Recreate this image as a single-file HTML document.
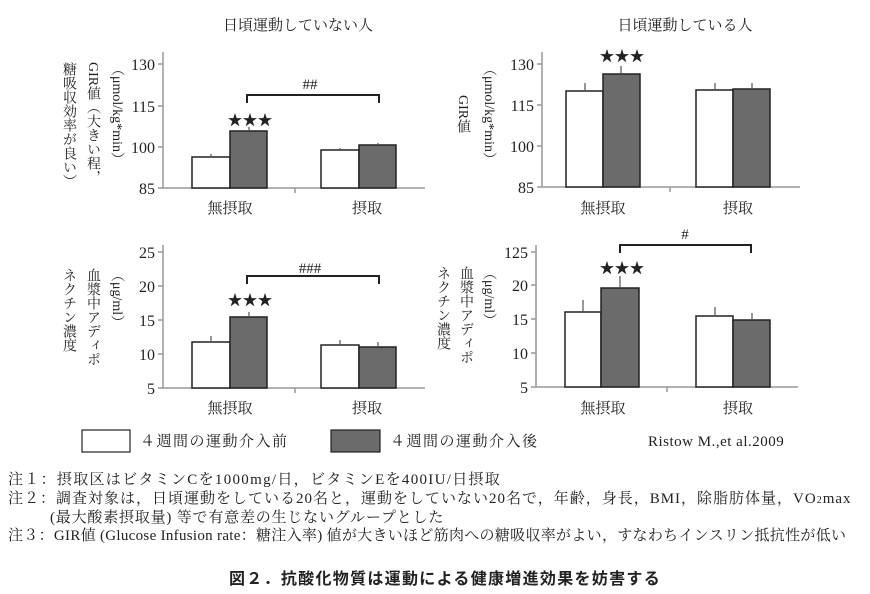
<!DOCTYPE html>
<html><head><meta charset="utf-8"><style>
body{margin:0;background:#fff;width:870px;height:594px;overflow:hidden;position:relative;font-family:"Liberation Serif","Noto Serif CJK SC","Noto Sans CJK JP",serif;color:#222}
.v{position:absolute;writing-mode:vertical-rl;font-size:14px;line-height:16px;white-space:nowrap}
.t{position:absolute;font-size:15px;letter-spacing:0.6px;white-space:nowrap}
</style></head><body>
<svg width="870" height="594" style="position:absolute;left:0;top:0" font-family="Liberation Serif, Noto Serif CJK SC, serif" font-size="15" fill="#222">
<g stroke="#999" stroke-width="1.5" fill="none">
<path d="M163 52V188H425M163 64h-5M163 106h-5M163 147h-5M163 188h-5M295 188v5"/>
<path d="M542 52V187H800M542 64h-5M542 105h-5M542 146h-5M542 187h-5M670 187v5"/>
<path d="M163 245V388H425M163 252h-5M163 286h-5M163 320h-5M163 354h-5M163 388h-5M295 388v5"/>
<path d="M536 245V387H798M536 252h-5M536 285h-5M536 319h-5M536 353h-5M536 387h-5M667 387v5"/>
</g>
<g stroke="#222" stroke-width="1.5">
<rect x="192" y="157" width="38" height="31" fill="#fff"/><rect x="230" y="131" width="37" height="57" fill="#6b6b6b"/>
<rect x="321" y="150" width="38" height="38" fill="#fff"/><rect x="359" y="145" width="37" height="43" fill="#6b6b6b"/>
<rect x="566" y="91" width="37" height="96" fill="#fff"/><rect x="603" y="74" width="37" height="113" fill="#6b6b6b"/>
<rect x="696" y="90" width="37" height="97" fill="#fff"/><rect x="733" y="89" width="37" height="98" fill="#6b6b6b"/>
<rect x="192" y="342" width="38" height="46" fill="#fff"/><rect x="230" y="317" width="37" height="71" fill="#6b6b6b"/>
<rect x="321" y="345" width="38" height="43" fill="#fff"/><rect x="359" y="347" width="37" height="41" fill="#6b6b6b"/>
<rect x="565" y="312" width="36" height="75" fill="#fff"/><rect x="601" y="288" width="38" height="99" fill="#6b6b6b"/>
<rect x="696" y="316" width="37" height="71" fill="#fff"/><rect x="733" y="320" width="37" height="67" fill="#6b6b6b"/>
</g>
<g stroke="#555" stroke-width="1.2" fill="none">
<path d="M211 157v-3M249 131v-4M340 150v-2M378 145v-2"/>
<path d="M585 91v-8M621 74v-8M715 90v-7M752 89v-6"/>
<path d="M211 342v-6M249 317v-5M340 345v-5M378 347v-5"/>
<path d="M583 312v-12M620 288v-12M715 316v-9M752 320v-7"/>
</g>
<g stroke="#222" stroke-width="2" fill="none">
<path d="M247 103v-8h132v8"/><path d="M247 284v-8h132v8"/><path d="M620 253v-8h131v8"/>
</g>
<g text-anchor="end" font-size="16">
<text x="155" y="70">130</text><text x="155" y="112">115</text><text x="155" y="153">100</text><text x="155" y="194">85</text>
<text x="534" y="70">130</text><text x="534" y="111">115</text><text x="534" y="152">100</text><text x="534" y="193">85</text>
<text x="155" y="258">25</text><text x="155" y="292">20</text><text x="155" y="326">15</text><text x="155" y="360">10</text><text x="155" y="394">5</text>
<text x="528" y="258">125</text><text x="528" y="291">20</text><text x="528" y="325">15</text><text x="528" y="359">10</text><text x="528" y="393">5</text>
</g>
<g text-anchor="middle" font-size="15">
<text x="298" y="30">日頃運動していない人</text><text x="685" y="30">日頃運動している人</text>
<text x="230" y="213">無摂取</text><text x="367" y="213">摂取</text>
<text x="603" y="213">無摂取</text><text x="738" y="213">摂取</text>
<text x="230" y="413">無摂取</text><text x="367" y="413">摂取</text>
<text x="603" y="413">無摂取</text><text x="738" y="413">摂取</text>
<text x="310" y="89">##</text><text x="310" y="273">###</text><text x="685" y="239">#</text>
<text x="250" y="125" font-size="15">★★★</text><text x="250" y="305" font-size="15">★★★</text>
<text x="622" y="61" font-size="15">★★★</text><text x="622" y="273" font-size="15">★★★</text>
</g>
<rect x="82" y="430" width="48" height="22" fill="#fff" stroke="#222" stroke-width="1.2"/>
<rect x="331" y="430" width="49" height="22" fill="#6b6b6b" stroke="#222" stroke-width="1.2"/>
<text x="140" y="446" font-size="15" letter-spacing="1.5">４週間の運動介入前</text>
<text x="390" y="446" font-size="15" letter-spacing="1.5">４週間の運動介入後</text>
<text x="648" y="446" font-size="15" letter-spacing="0.5">Ristow M.,et al.2009</text>
</svg>
<div class="v" style="left:108px;top:62px">（μmol/kg*min）</div>
<div class="v" style="left:84px;top:62px">GIR値（大きい程，</div>
<div class="v" style="left:60px;top:62px">糖吸収効率が良い）</div>
<div class="v" style="left:480px;top:62px">（μmol/kg*min）</div>
<div class="v" style="left:454px;top:95px">GIR値</div>
<div class="v" style="left:108px;top:268px">（μg/ml）</div>
<div class="v" style="left:84px;top:268px">血漿中アディポ</div>
<div class="v" style="left:60px;top:268px">ネクチン濃度</div>
<div class="v" style="left:480px;top:266px">（μg/ml）</div>
<div class="v" style="left:457px;top:266px">血漿中アディポ</div>
<div class="v" style="left:434px;top:266px">ネクチン濃度</div>
<div class="t" style="left:8px;top:468px;letter-spacing:1.3px">注１：摂取区はビタミンCを1000mg/日，ビタミンEを400IU/日摂取</div>
<div class="t" style="left:8px;top:487px;letter-spacing:1.0px">注２：調査対象は，日頃運動をしている20名と，運動をしていない20名で，年齢，身長，BMI，除脂肪体量，VO<span style="font-size:10px">2</span>max</div>
<div class="t" style="left:50px;top:506px;letter-spacing:0.8px">(最大酸素摂取量) 等で有意差の生じないグループとした</div>
<div class="t" style="left:8px;top:524px;letter-spacing:0.3px">注３：GIR値 (Glucose Infusion rate：糖注入率) 値が大きいほど筋肉への糖吸収率がよい，すなわちインスリン抵抗性が低い</div>
<div class="t" style="left:10px;width:870px;text-align:center;top:565px;font-weight:bold;font-size:16px;letter-spacing:1.3px;font-family:'Liberation Sans','Noto Sans CJK JP',sans-serif">図２．抗酸化物質は運動による健康増進効果を妨害する</div>
</body></html>
